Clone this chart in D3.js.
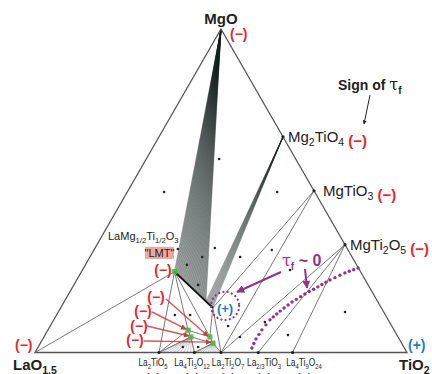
<!DOCTYPE html>
<html><head><meta charset="utf-8">
<script src="https://cdn.jsdelivr.net/npm/d3@7"></script>
<style>body{margin:0;background:#fff}svg{display:block;font-family:"Liberation Sans",Arial,sans-serif}</style>
</head><body><svg id="c" width="432" height="374"></svg>
<script>
// ---- data: cation fractions [La, Mg, Ti] ----
const phaseNames = ["LaO1.5","MgO","TiO2","Mg2TiO4","MgTiO3","MgTi2O5","La2TiO5","La4Ti3O12","La2Ti2O7","La2/3TiO3","La4Ti9O24","LMT","S","G1","G2","G3","G4"];
const phaseComps = [[1,0,0],[0,1,0],[0,0,1],[0,2/3,1/3],[0,0.5,0.5],[0,1/3,2/3],[2/3,0,1/3],[4/7,0,3/7],[0.5,0,0.5],[0.4,0,0.6],[4/13,0,9/13],[0.5,0.25,0.25],[0.453,0.138,0.409],[0.554,0.069,0.377],[0.557,0.048,0.395],[0.506,0.048,0.446],[0.507,0.029,0.464]];
const tieLines = [["LaO1.5","LMT"],["LMT","La2TiO5"],["LMT","G1"],["LMT","G3"],["S","G3"],["S","La2Ti2O7"],["G1","G3"],["G2","G4"],["G1","G2"],["G3","G4"],["G1","La2TiO5"],["G2","La2TiO5"],["G2","La4Ti3O12"],["G4","La4Ti3O12"],["G4","La2Ti2O7"],["MgTiO3","S"],["MgTiO3","La2Ti2O7"],["MgTi2O5","La2Ti2O7"],["MgTi2O5","La2/3TiO3"],["MgTi2O5","La4Ti9O24"]];
const greenPoints = ["LMT","G1","G2","G3","G4"];
const sampleDots = [[0.206,0.598,0.196],[0.405,0.496,0.099],[0.101,0.496,0.403],[0.355,0.323,0.322],[0.301,0.295,0.404],[0.205,0.317,0.478],[0.187,0.255,0.558],[0.104,0.125,0.771],[0.440,0.082,0.478],[0.425,0.048,0.527],[0.335,0.094,0.571],[0.293,0.054,0.653],[0.456,0.320,0.224],[0.403,0.295,0.302],[0.456,0.271,0.273],[0.457,0.209,0.334],[0.566,0.116,0.318],[0.525,0.116,0.359],[0.594,0.017,0.389],[0.553,0.017,0.430]];
const tauZeroCurve = [[0.001,0.261,0.738],[0.044,0.246,0.710],[0.095,0.224,0.681],[0.138,0.203,0.659],[0.184,0.181,0.635],[0.231,0.156,0.613],[0.277,0.128,0.595],[0.318,0.101,0.581],[0.355,0.070,0.575],[0.385,0.042,0.573],[0.410,0.014,0.576]];
const tauZeroCircle = {center:[0.417,0.144,0.439], radius:0.038};
const bottomLabels = [["La2TiO5","La{2}TiO{5}","−"],["La4Ti3O12","La{4}Ti{3}O{12}","−"],["La2Ti2O7","La{2}Ti{2}O{7}","−"],["La2/3TiO3","La{2/3}TiO{3}","+"],["La4Ti9O24","La{4}Ti{9}O{24}","+"]];
const rightLabels = [["Mg2TiO4","Mg{2}TiO{4}","−"],["MgTiO3","MgTiO{3}","−"],["MgTi2O5","MgTi{2}O{5}","−"]];

const RED="#e8262d", BLUE="#1b7fc4", PURPLE="#93318c";
const svg = d3.select("#c");
const x = d3.scaleLinear().domain([0,1]).range([35,407]);
const y = d3.scaleLinear().domain([0,1]).range([352.5,29]);
const P = {}; phaseNames.forEach((n,i)=>P[n]=phaseComps[i]);
function proj(c){const s=c[0]+c[1]+c[2];const mg=c[1]/s,ti=c[2]/s;return [x(ti+mg/2),y(mg)];}
const mix=(a,b,t)=>a.map((v,i)=>v+(b[i]-v)*t);

function chem(g,str,fs,opts={}){
  const t=g.append("text").attr("font-size",fs);
  if(opts.weight) t.attr("font-weight",opts.weight);
  if(opts.fill) t.attr("fill",opts.fill);
  if(opts.anchor) t.attr("text-anchor",opts.anchor);
  t.attr("x",opts.x).attr("y",opts.y);
  const parts=str.split(/(\{[^}]*\})/).filter(p=>p);
  let sub=false; const sfs=fs*0.7, dd=fs*0.28;
  parts.forEach(p=>{
    if(p[0]==="{"){t.append("tspan").attr("font-size",sfs).attr("dy",sub?0:dd).text(p.slice(1,-1));sub=true;}
    else{t.append("tspan").attr("dy",sub?-dd:0).text(p);sub=false;}
  });
  return t;
}

// fan from MgO (two-phase region tie lines)
const fan = svg.append("g");
d3.range(0,0.8201,0.82/50).forEach(t=>{const a=proj(P["MgO"]),b=proj(mix(P["LMT"],P["S"],t));
  fan.append("line").attr("x1",a[0]).attr("y1",a[1]).attr("x2",b[0]).attr("y2",b[1]).attr("stroke","#14201e").attr("stroke-width",0.6).attr("stroke-opacity",0.62);});
d3.range(0.82,1.0001,0.18/14).forEach(t=>{const a=proj(P["Mg2TiO4"]),b=proj(mix(P["LMT"],P["S"],t));
  fan.append("line").attr("x1",a[0]).attr("y1",a[1]).attr("x2",b[0]).attr("y2",b[1]).attr("stroke","#14201e").attr("stroke-width",0.55).attr("stroke-opacity",0.55);});
// lower dome fans
d3.range(0,1.0001,1/10).forEach(t=>{const a=proj(P["G2"]),b=proj(mix(P["La2TiO5"],P["La4Ti3O12"],t));
  fan.append("line").attr("x1",a[0]).attr("y1",a[1]).attr("x2",b[0]).attr("y2",b[1]).attr("stroke","#555").attr("stroke-width",0.5).attr("stroke-opacity",0.6);});
d3.range(0,1.0001,1/10).forEach(t=>{const a=proj(P["G4"]),b=proj(mix(P["La4Ti3O12"],P["La2Ti2O7"],t));
  fan.append("line").attr("x1",a[0]).attr("y1",a[1]).attr("x2",b[0]).attr("y2",b[1]).attr("stroke","#555").attr("stroke-width",0.5).attr("stroke-opacity",0.6);});

// triangle
const tri=[P["LaO1.5"],P["MgO"],P["TiO2"]].map(proj);
svg.append("path").attr("d",d3.line()(tri)+"Z").attr("fill","none").attr("stroke","#555").attr("stroke-width",1.3);

// tie lines
svg.append("g").selectAll("line").data(tieLines).join("line")
  .attr("x1",d=>proj(P[d[0]])[0]).attr("y1",d=>proj(P[d[0]])[1])
  .attr("x2",d=>proj(P[d[1]])[0]).attr("y2",d=>proj(P[d[1]])[1])
  .attr("stroke","#6a6a6a").attr("stroke-width",0.9);
{const a=proj(P["LMT"]),b=proj(P["S"]);svg.append("line").attr("x1",a[0]).attr("y1",a[1]).attr("x2",b[0]).attr("y2",b[1]).attr("stroke","#111").attr("stroke-width",2);}

// sample dots
svg.append("g").selectAll("circle").data(sampleDots).join("circle")
  .attr("cx",d=>proj(d)[0]).attr("cy",d=>proj(d)[1]).attr("r",1.3).attr("fill","#222");
["Mg2TiO4","MgTiO3","MgTi2O5","La2TiO5","La4Ti3O12","La2Ti2O7","La2/3TiO3","La4Ti9O24"].forEach(n=>{
  const p=proj(P[n]);svg.append("circle").attr("cx",p[0]).attr("cy",p[1]).attr("r",1.6).attr("fill","#222");});
svg.append("g").selectAll("rect").data(greenPoints).join("rect")
  .attr("x",d=>proj(P[d])[0]-2.6).attr("y",d=>proj(P[d])[1]-2.6).attr("width",5.2).attr("height",5.2)
  .attr("fill","#4cb848").attr("opacity",0.9);

// arrow markers
const defs=svg.append("defs");
function marker(id,col){defs.append("marker").attr("id",id).attr("viewBox","0 0 10 10").attr("refX",9).attr("refY",5)
  .attr("markerWidth",4).attr("markerHeight",4).attr("orient","auto").append("path").attr("d","M0,0L10,5L0,10Z").attr("fill",col);}
marker("ar","#d03a3a");marker("ap",PURPLE);marker("ak","#222");

const redArrows=[[[166,299],"G3"],[[152,312],"G1"],[[147,326],"G2"],[[144,341],"G4"]];
const redLabels=[[156,302],[143,316],[139,331],[135,345]];
redArrows.forEach(r=>{const e=proj(P[r[1]]);
  svg.append("line").attr("x1",r[0][0]).attr("y1",r[0][1]).attr("x2",e[0]-2).attr("y2",e[1]-1)
   .attr("stroke","#cf3b3b").attr("stroke-width",1.4).attr("stroke-opacity",0.85).attr("marker-end","url(#ar)");});
redLabels.forEach(p=>svg.append("text").attr("x",p[0]).attr("y",p[1]).attr("text-anchor","middle").attr("font-size",14).attr("font-weight","bold").attr("fill",RED).text("(−)"));

// tau ~ 0 curve and circle
svg.append("g").selectAll("circle").data((()=>{
  const pts=tauZeroCurve.map(proj);const out=[];
  for(let i=0;i<pts.length-1;i++){const a=pts[i],b=pts[i+1];const L=Math.hypot(b[0]-a[0],b[1]-a[1]);const n=Math.max(1,Math.round(L/5.2));
    for(let k=0;k<n;k++)out.push([a[0]+(b[0]-a[0])*k/n,a[1]+(b[1]-a[1])*k/n]);}
  out.push(pts[pts.length-1]);return out;})()).join("circle")
  .attr("cx",d=>d[0]).attr("cy",d=>d[1]).attr("r",1.7).attr("fill",PURPLE);
{const c=proj(tauZeroCircle.center);const r=x(tauZeroCircle.radius)-x(0);
  svg.append("circle").attr("cx",c[0]).attr("cy",c[1]).attr("r",r).attr("fill","none").attr("stroke",PURPLE)
   .attr("stroke-width",2.2).attr("stroke-dasharray","0.1 4.2").attr("stroke-linecap","round");
  svg.append("text").attr("x",c[0]).attr("y",c[1]+7).attr("text-anchor","middle").attr("font-size",13).attr("font-weight","bold").attr("fill",BLUE).text("(+)");}
svg.append("line").attr("x1",281).attr("y1",272).attr("x2",237).attr("y2",292).attr("stroke",PURPLE).attr("stroke-width",2).attr("marker-end","url(#ap)");
svg.append("line").attr("x1",305).attr("y1",269).attr("x2",307).attr("y2",288).attr("stroke",PURPLE).attr("stroke-width",2).attr("marker-end","url(#ap)");
{const t=svg.append("text").attr("x",282).attr("y",266).attr("font-size",16).attr("fill",PURPLE).attr("font-weight","bold");
 t.append("tspan").attr("font-family","DejaVu Serif").attr("font-weight","normal").text("τ");
 t.append("tspan").attr("font-size",10).attr("dy",4).text("f");
 t.append("tspan").attr("dy",-4).text(" ~ 0");}

// vertex labels
chem(svg,"MgO",15,{x:221,y:24,anchor:"middle",weight:"bold",fill:"#222"});
svg.append("text").attr("x",230).attr("y",39).attr("font-size",14).attr("font-weight","bold").attr("fill",RED).text("(−)");
chem(svg,"LaO{1.5}",15,{x:13,y:370,weight:"bold",fill:"#222"});
svg.append("text").attr("x",15).attr("y",350).attr("font-size",14).attr("font-weight","bold").attr("fill",RED).text("(−)");
chem(svg,"TiO{2}",15,{x:399,y:370,weight:"bold",fill:"#222"});
svg.append("text").attr("x",408).attr("y",350).attr("font-size",14).attr("font-weight","bold").attr("fill",BLUE).text("(+)");

// right-edge labels
const rightOffsets=[5,9,5];
rightLabels.forEach((d,i)=>{const p=proj(P[d[0]]);
  const t=chem(svg,d[1],15,{x:p[0]+rightOffsets[i],y:p[1]+5,fill:"#222"});
  t.append("tspan").attr("fill",RED).attr("font-weight","bold").attr("dy",0).text(" ("+d[2]+")");});

// bottom labels (condensed, placed side by side)
const bottomCenters=[153,192,228,264,304];
bottomLabels.forEach((d,i)=>{
  const g=svg.append("g").attr("transform",`translate(${bottomCenters[i]},366) scale(0.8,1)`);
  chem(g,d[1],10.5,{x:0,y:0,anchor:"middle",fill:"#222"});
  svg.append("text").attr("x",bottomCenters[i]).attr("y",382).attr("text-anchor","middle").attr("font-size",12).attr("font-weight","bold").attr("fill",d[2]==="+"?BLUE:RED).text("("+d[2]+")");});

// LMT labels
chem(svg,"LaMg{1/2}Ti{1/2}O{3}",11,{x:108,y:240,fill:"#222"});
svg.append("rect").attr("x",145).attr("y",247).attr("width",29).attr("height",12).attr("fill","#f2a69c");
svg.append("text").attr("x",159.5).attr("y",257).attr("text-anchor","middle").attr("font-size",11).attr("fill","#222").text("\"LMT\"");
svg.append("text").attr("x",163).attr("y",275).attr("text-anchor","middle").attr("font-size",14).attr("font-weight","bold").attr("fill",RED).text("(−)");

// sign of tau_f
{const t=svg.append("text").attr("x",338).attr("y",90).attr("font-size",14).attr("font-weight","bold").attr("fill","#222");
 t.append("tspan").text("Sign of ");
 t.append("tspan").attr("font-family","DejaVu Serif").attr("font-weight","normal").attr("font-size",16).text("τ");
 t.append("tspan").attr("font-size",10).attr("dy",4).text("f");}
svg.append("line").attr("x1",370).attr("y1",95).attr("x2",364).attr("y2",124).attr("stroke","#222").attr("stroke-width",1).attr("marker-end","url(#ak)");
</script></body></html>
